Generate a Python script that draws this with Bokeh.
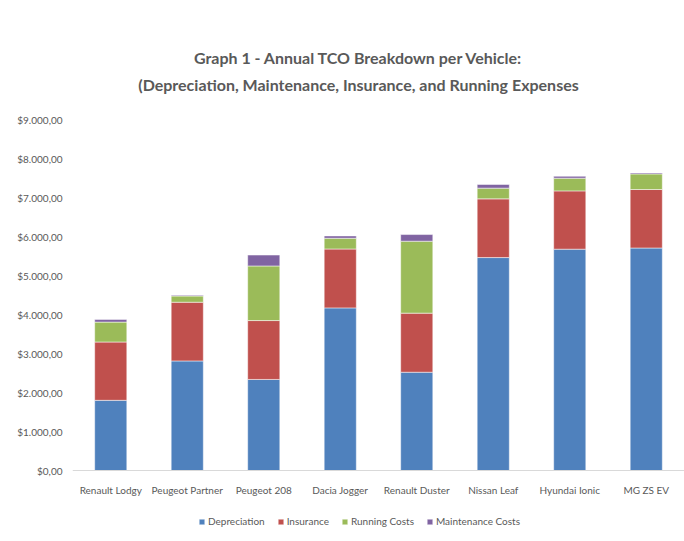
from bokeh.plotting import figure
from bokeh.models import (FactorRange, Range1d, FixedTicker, CustomJSTickFormatter,
                          Legend, LegendItem, Label)
from bokeh.embed import file_html
from bokeh.resources import INLINE

vehicles = ["Renault Lodgy", "Peugeot Partner", "Peugeot 208", "Dacia Jogger",
            "Renault Duster", "Nissan Leaf", "Hyundai Ionic", "MG ZS EV"]
depreciation = [1800, 2810, 2335, 4170, 2520, 5460, 5675, 5705]
insurance = [1495, 1505, 1510, 1510, 1515, 1505, 1495, 1500]
running = [510, 160, 1400, 275, 1845, 275, 325, 400]
maintenance = [70, 20, 280, 60, 170, 95, 50, 25]
series = ["Depreciation", "Insurance", "Running Costs", "Maintenance Costs"]
colors = ["#4F81BD", "#C0504D", "#9BBB59", "#8064A2"]
y_ticks = [0, 1000, 2000, 3000, 4000, 5000, 6000, 7000, 8000, 9000]
title_lines = ["Graph 1 - Annual TCO Breakdown per Vehicle:",
               "(Depreciation, Maintenance, Insurance, and Running Expenses"]

FONT = "Lato"
GREY = "#595959"

data = {"vehicle": vehicles, "Depreciation": depreciation, "Insurance": insurance,
        "Running Costs": running, "Maintenance Costs": maintenance}

# the frame spans the whole height (titles above the last tick, axis labels and
# legend below zero) so that no annotation is clipped
p = figure(x_range=FactorRange(factors=vehicles, range_padding=0),
           y_range=Range1d(-1820, 11000),
           width=684, height=541, frame_width=612, frame_height=500,
           output_backend="svg", toolbar_location=None,
           min_border_left=72, min_border_right=0, min_border_top=41, min_border_bottom=0)

renderers = p.vbar_stack(series, x="vehicle", width=0.42, source=data, color=colors,
                         line_color="white", line_alpha=0.5, line_width=1)

p.xgrid.visible = False
p.ygrid.visible = False
p.outline_line_color = None

p.yaxis.ticker = FixedTicker(ticks=y_ticks)
p.yaxis.formatter = CustomJSTickFormatter(code="""
const s = tick.toFixed(2).split('.');
return '$' + s[0].replace(/\\B(?=(\\d{3})+(?!\\d))/g, '.') + ',' + s[1];
""")
p.yaxis.axis_line_color = None
p.yaxis.major_tick_line_color = None
p.yaxis.minor_tick_line_color = None
p.yaxis.major_tick_out = 0
p.yaxis.major_tick_in = 0
p.yaxis.major_label_standoff = 10
p.yaxis.major_label_text_font = FONT
p.yaxis.major_label_text_font_size = "10px"
p.yaxis.major_label_text_color = GREY

p.xaxis.fixed_location = 0
p.xaxis.axis_line_color = "#D9D9D9"
p.xaxis.axis_line_width = 1
p.xaxis.major_tick_line_color = None
p.xaxis.minor_tick_line_color = None
p.xaxis.major_tick_out = 0
p.xaxis.major_tick_in = 0
p.xaxis.major_label_standoff = 13
p.xaxis.major_label_text_font = FONT
p.xaxis.major_label_text_font_size = "10px"
p.xaxis.major_label_text_color = GREY

for i, line in enumerate(title_lines):
    p.add_layout(Label(x=286, y=484 - i * 27, x_units="screen", y_units="screen",
                       text=line, text_align="center", text_baseline="middle",
                       text_font=FONT, text_font_style="bold", text_font_size="16px",
                       text_color=GREY))

legend = Legend(items=[LegendItem(label=s, renderers=[r]) for s, r in zip(series, renderers)],
                orientation="horizontal", location=(126, 13),
                glyph_width=7, glyph_height=7, label_height=14, label_standoff=3, spacing=12,
                padding=0, margin=0, border_line_alpha=0, background_fill_alpha=0,
                label_text_font=FONT, label_text_font_size="10px", label_text_color=GREY)
p.add_layout(legend, "center")

open("out.html", "w").write(file_html(p, INLINE))
